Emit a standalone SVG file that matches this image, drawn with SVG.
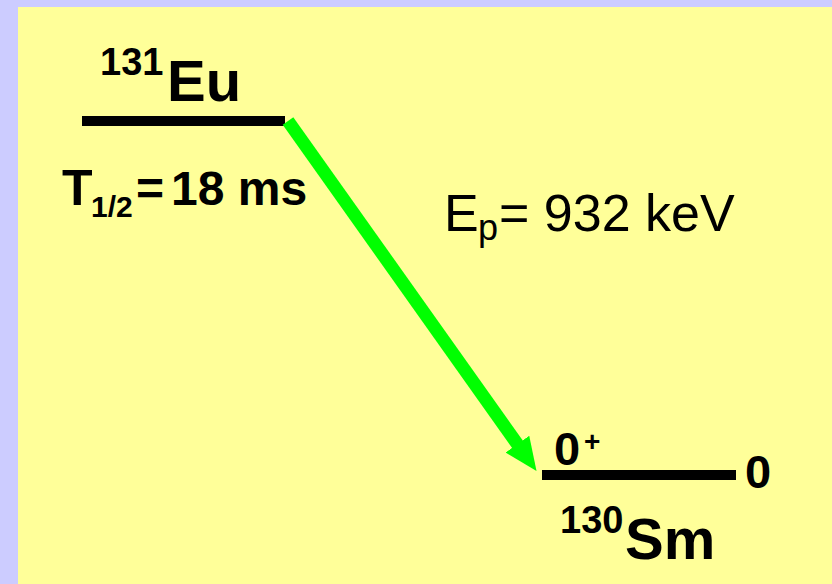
<svg xmlns="http://www.w3.org/2000/svg" width="832" height="584" viewBox="0 0 832 584">
<defs>
<style>
.t{font-family:"Liberation Sans",Arial,sans-serif;fill:#000}
.b{font-weight:bold}
.lvl{fill:#000}
.arr{stroke:#00FF00;stroke-width:13;fill:none}
</style>
<marker id="ah" markerUnits="userSpaceOnUse" orient="auto" markerWidth="40" markerHeight="40" refX="1" refY="14.5" viewBox="0 0 40 40">
<path d="M0,0 L33,14.5 L0,29 z" fill="#00FF00"/>
</marker>
</defs>
<rect x="0" y="0" width="832" height="584" fill="#CCCCFF"/>
<rect x="18" y="7" width="814" height="577" fill="#FFFF99"/>
<g id="eu131">
<rect class="lvl" x="82" y="116" width="203" height="10"/>
<text class="t b" x="100" y="75" font-size="38">131</text>
<text class="t b" x="167" y="101" font-size="58">Eu</text>
<text class="t b" x="62" y="205" font-size="50">T</text>
<text class="t b" x="91" y="217" font-size="30">1/2</text>
<text class="t b" x="136" y="205" font-size="48">=</text>
<text class="t b" x="171" y="205" font-size="48">18 ms</text>
</g>
<g id="sm130">
<rect class="lvl" x="542" y="470" width="194" height="10"/>
<text class="t b" x="554" y="465" font-size="47">0</text>
<text class="t b" x="584" y="451" font-size="28">+</text>
<text class="t b" x="745" y="488" font-size="47">0</text>
<text class="t b" x="560" y="533" font-size="38">130</text>
<text class="t b" x="625" y="559" font-size="58">Sm</text>
</g>
<g id="label">
<text class="t" x="444" y="231" font-size="52">E</text>
<text class="t" x="478" y="240" font-size="36">p</text>
<text class="t" x="499" y="231" font-size="52">= 932 keV</text>
</g>
<g id="connectors">
<line class="arr" x1="288" y1="121" x2="518" y2="445" marker-end="url(#ah)"/>
</g>
</svg>
